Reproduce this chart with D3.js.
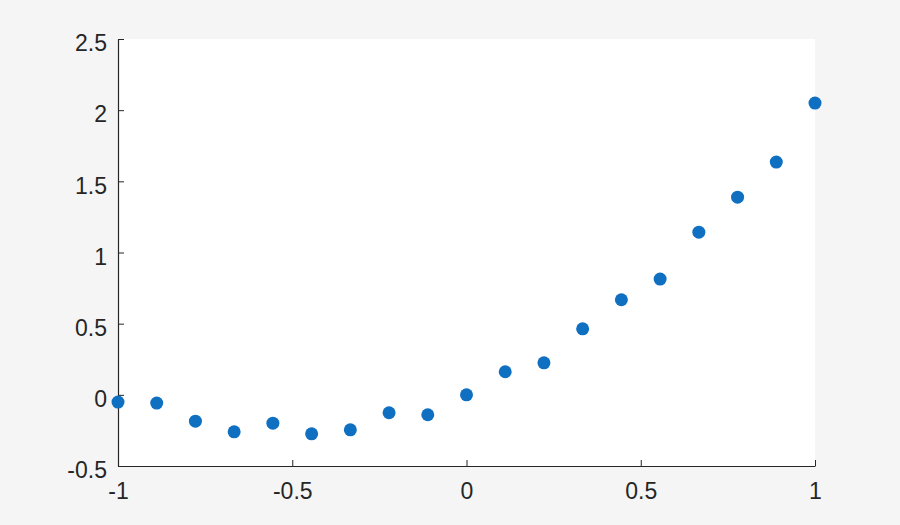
<!DOCTYPE html>
<html>
<head>
<meta charset="utf-8">
<script src="https://cdn.jsdelivr.net/npm/d3@7"></script>
<style>
  body { margin: 0; background: #f5f5f5; }
  svg { display: block; }
</style>
</head>
<body>
<div class="chart"></div>
<script>
// x sample positions (-1 to 1 in steps of 1/9)
const xValues = [-1, -0.8889, -0.7778, -0.6667, -0.5556, -0.4444, -0.3333, -0.2222, -0.1111,
                 0, 0.1111, 0.2222, 0.3333, 0.4444, 0.5556, 0.6667, 0.7778, 0.8889, 1];
const yValues = [-0.051, -0.058, -0.185, -0.26, -0.199, -0.274, -0.246, -0.126, -0.14,
                 0.0, 0.162, 0.225, 0.464, 0.668, 0.813, 1.143, 1.389, 1.635, 2.05];
const xTicks = [-1, -0.5, 0, 0.5, 1];
const yTicks = [-0.5, 0, 0.5, 1, 1.5, 2, 2.5];

const width = 900;
const height = 525;
const margin = { top: 39, right: 85, bottom: 59, left: 118 };

const data = xValues.map((x, i) => ({ x: x, y: yValues[i] }));

const svg = d3.select(".chart")
    .append("svg")
    .attr("width", width)
    .attr("height", height);

svg.append("rect")
    .attr("width", width)
    .attr("height", height)
    .attr("fill", "#f5f5f5");

const xScale = d3.scaleLinear()
    .domain([-1, 1])
    .range([margin.left, width - margin.right]);

const yScale = d3.scaleLinear()
    .domain([-0.5, 2.5])
    .range([height - margin.bottom, margin.top]);

// white plot area
svg.append("rect")
    .attr("x", margin.left)
    .attr("y", margin.top)
    .attr("width", width - margin.left - margin.right)
    .attr("height", height - margin.top - margin.bottom)
    .attr("fill", "#ffffff");

const fmt = d => String(d);

const xAxis = svg.append("g")
    .attr("transform", `translate(0,${height - margin.bottom})`)
    .call(d3.axisBottom(xScale).tickValues(xTicks).tickFormat(fmt).tickSize(-6).tickSizeOuter(0).tickPadding(17));

const yAxis = svg.append("g")
    .attr("transform", `translate(${margin.left},0)`)
    .call(d3.axisLeft(yScale).tickValues(yTicks).tickFormat(fmt).tickSize(-6).tickSizeOuter(0).tickPadding(11));

[xAxis, yAxis].forEach(ax => {
    ax.select(".domain").attr("stroke", "#262626").attr("stroke-width", 1.2);
    ax.selectAll(".tick line").attr("stroke", "#262626").attr("stroke-width", 1);
    ax.selectAll(".tick text")
        .attr("fill", "#262626")
        .style("font-family", "'Liberation Sans', Arial, sans-serif")
        .style("font-size", "23px");
});
// MATLAB puts y labels slightly below tick centre
yAxis.selectAll(".tick text").attr("dy", "0.51em");

svg.append("g")
    .selectAll("circle")
    .data(data)
    .enter()
    .append("circle")
    .attr("cx", d => xScale(d.x))
    .attr("cy", d => yScale(d.y))
    .attr("r", 6.5)
    .attr("fill", "#0f6fc0");
</script>
</body>
</html>
